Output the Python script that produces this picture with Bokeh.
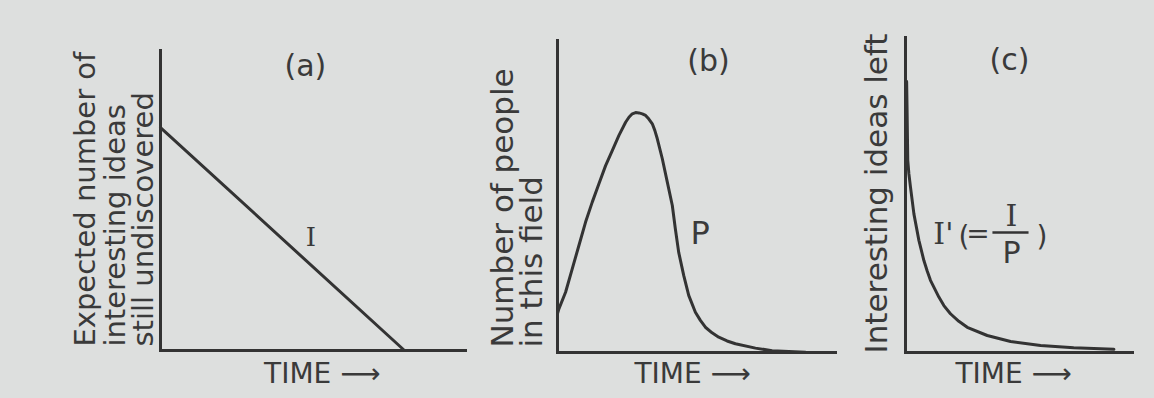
import math
from bokeh.plotting import figure
from bokeh.models import Range1d, Label, FixedTicker, LinearAxis
from bokeh.layouts import row
from bokeh.embed import file_html
from bokeh.resources import INLINE

# ---------------- data ----------------
# (a) expected number of interesting ideas still undiscovered, I
time_a = [0.0, 8.0]
ideas_a = [7.43, 0.0]

# (b) number of people in this field, P
time_b = [0.0, 0.05, 0.29, 0.53, 0.77, 1.01, 1.25, 1.49, 1.73, 1.97,
          2.21, 2.45, 2.57, 2.69, 2.81, 2.93, 3.05, 3.17, 3.28, 3.41,
          3.50, 3.59, 3.77, 3.95, 4.13, 4.24, 4.36, 4.54, 4.72, 4.96,
          5.14, 5.32, 5.56, 5.80, 6.10, 6.40, 7.12, 7.72, 8.32, 8.92]
people_b = [1.25, 1.40, 1.93, 2.68, 3.43, 4.18, 4.82, 5.41, 5.99, 6.47,
            6.96, 7.38, 7.54, 7.65, 7.69, 7.68, 7.65, 7.60, 7.49, 7.33,
            7.12, 6.85, 6.21, 5.46, 4.71, 3.96, 3.21, 2.47, 1.83, 1.29,
            1.03, 0.81, 0.63, 0.49, 0.37, 0.28, 0.14, 0.06, 0.03, 0.01]

# (c) interesting ideas left, I' (= I / P)
time_c = [0.05, 0.07, 0.10, 0.15, 0.22, 0.37, 0.48, 0.59, 0.81, 0.96, 1.10, 1.47,
          1.69, 1.98, 2.35, 2.72, 3.60, 4.63, 5.95, 7.41, 9.18]
ratio_c = [8.6, 7.68, 6.10, 5.67, 5.25, 4.40, 3.98, 3.56, 2.92, 2.58, 2.29, 1.76,
           1.49, 1.23, 0.99, 0.80, 0.54, 0.35, 0.22, 0.15, 0.10]

panel_titles = ["(a)", "(b)", "(c)"]
x_label = "TIME ⟶"
ylabel_a = ["Expected number of", "interesting ideas", "still undiscovered"]
ylabel_b = ["Number of people", "in this field"]
ylabel_c = ["Interesting ideas left"]

# ---------------- style / layout ----------------
PAPER = "#dddfde"
INK = "#333333"
TEXT = "#3a3a3a"
SANS = "DejaVu Sans"
SERIF = "DejaVu Serif"
H = 398


def make_fig(width, ox, oy, sx, sy):
    """ox, oy: pixel position of the axes origin inside the figure;
    sx, sy: pixels per data unit.  Axes run 0..10 in data units."""
    xr = Range1d(-ox / sx, (width - ox) / sx)
    yr = Range1d(-(H - oy) / sy, oy / sy)
    p = figure(width=width, height=H, x_range=xr, y_range=yr,
               x_axis_type=None, y_axis_type=None,
               output_backend="svg", toolbar_location=None, min_border=0)
    p.xgrid.visible = False
    p.ygrid.visible = False
    p.outline_line_color = None
    p.background_fill_color = PAPER
    p.border_fill_color = PAPER
    for side in ("below", "left"):
        ax = LinearAxis(fixed_location=0, bounds=(0, 10), ticker=FixedTicker(ticks=[]),
                        major_tick_out=0, major_tick_in=0, minor_tick_out=0, minor_tick_in=0,
                        major_label_standoff=0, major_label_text_font_size="0px",
                        axis_line_width=3, axis_line_color=INK, axis_line_cap="square")
        p.add_layout(ax, side)
    return p


def txt(p, x, y, s, size, font=SANS, align="center", baseline="middle", angle=0.0):
    p.add_layout(Label(x=x, y=y, text=s, text_font=font, text_font_size=f"{size}px",
                       text_color=TEXT, text_align=align, text_baseline=baseline,
                       angle=angle))


def ylabels(p, xs, y0, lines, size):
    for xx, line in zip(xs, lines):
        txt(p, xx, y0, line, size, align="left", baseline="middle", angle=math.pi / 2)


# ---------------- (a) ----------------
pa = make_fig(478, 160, 350, 30.5, 30.0)
pa.line(time_a, ideas_a, line_width=3, line_color=INK, line_cap="round")
txt(pa, 4.75, 9.5, panel_titles[0], 30)
txt(pa, 4.93, 3.8, "I", 26, font=SERIF)
txt(pa, 5.30, -0.77, x_label, 28)
ylabels(pa, [-2.46, -1.48, -0.56], 0.13, ylabel_a, 29)

# ---------------- (b) ----------------
pb = make_fig(360, 79, 352, 27.8, 31.2)
pb.line(time_b, people_b, line_width=3, line_color=INK, line_cap="round", line_join="round")
txt(pb, 5.43, 9.36, panel_titles[1], 30)
txt(pb, 5.13, 3.83, "P", 32)
txt(pb, 4.86, -0.67, x_label, 28)
ylabels(pb, [-1.98, -0.94], 0.16, ylabel_b, 31)

# ---------------- (c) ----------------
pc = make_fig(316, 67, 352, 22.7, 31.5)
pc.line(time_c, ratio_c, line_width=3, line_color=INK, line_cap="round", line_join="round")
txt(pc, 4.58, 9.3, panel_titles[2], 30)
txt(pc, 1.67, 3.79, "I'", 30, font=SERIF)
txt(pc, 2.58, 3.67, "(", 28)
txt(pc, 3.19, 3.79, "=", 28)
pc.segment(x0=[3.83], y0=[3.81], x1=[5.42], y1=[3.81], line_width=2.5, line_color=INK)
txt(pc, 4.67, 4.35, "I", 30, font=SERIF)
txt(pc, 4.67, 3.16, "P", 30)
txt(pc, 6.01, 3.67, ")", 28)
txt(pc, 4.76, -0.67, x_label, 28)
ylabels(pc, [-1.28], -0.03, ylabel_c, 31)

layout = row(pa, pb, pc)
html = file_html(layout, INLINE, title="Interesting ideas")
html = html.replace("</head>", "<style>body{background:%s;}</style></head>" % PAPER, 1)
open("out.html", "w").write(html)
